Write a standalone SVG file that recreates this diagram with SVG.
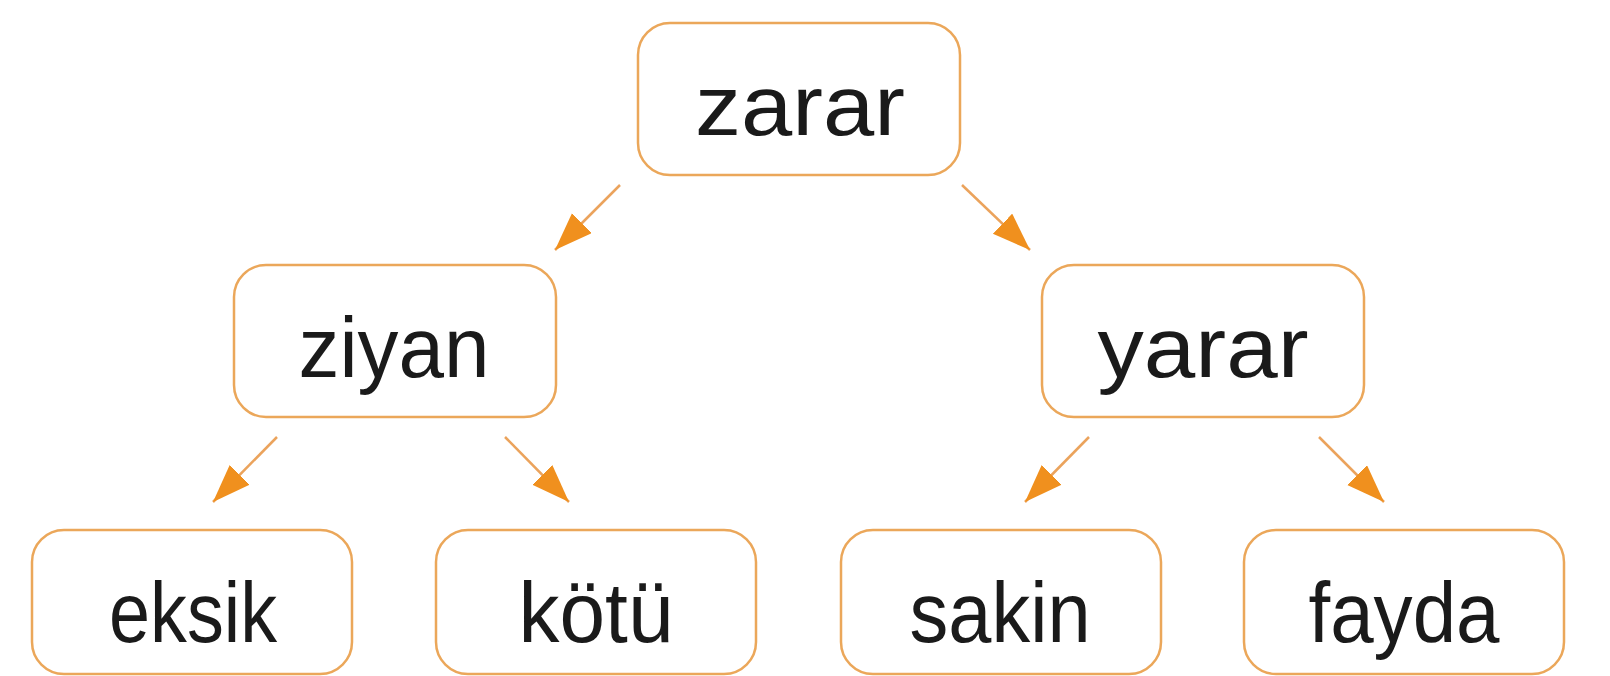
<svg xmlns="http://www.w3.org/2000/svg" width="1610" height="676" viewBox="0 0 1610 676">
<defs>
<style>
.box{fill:#ffffff;stroke:#EBA75A;stroke-width:2.5}
.lbl{font-family:"Liberation Sans","Noto Sans",sans-serif;font-size:86px;fill:#1a1a1a;text-anchor:middle}
.edge{stroke:#EBA35C;stroke-width:2.5;fill:none}
</style>
<marker id="ah" markerUnits="userSpaceOnUse" markerWidth="40" markerHeight="30" refX="38" refY="14" orient="auto">
<path d="M0,0 L38,14 L0,28 Z" fill="#F0901E"/>
</marker>
</defs>
<rect width="1610" height="676" fill="#ffffff"/>
<g id="connectors">
<line class="edge" x1="620" y1="185" x2="555" y2="250" marker-end="url(#ah)"/>
<line class="edge" x1="962" y1="185" x2="1030" y2="250" marker-end="url(#ah)"/>
<line class="edge" x1="277" y1="437" x2="213" y2="502" marker-end="url(#ah)"/>
<line class="edge" x1="505" y1="437" x2="569" y2="502" marker-end="url(#ah)"/>
<line class="edge" x1="1089" y1="437" x2="1025" y2="502" marker-end="url(#ah)"/>
<line class="edge" x1="1319" y1="437" x2="1384" y2="502" marker-end="url(#ah)"/>
</g>
<g id="zarar"><rect class="box" x="638" y="23" width="322" height="152" rx="32"/><text class="lbl" x="800" y="135" textLength="210" lengthAdjust="spacingAndGlyphs">zarar</text></g>
<g id="ziyan"><rect class="box" x="234" y="265" width="322" height="152" rx="32"/><text class="lbl" x="394" y="377" textLength="191" lengthAdjust="spacingAndGlyphs">ziyan</text></g>
<g id="yarar"><rect class="box" x="1042" y="265" width="322" height="152" rx="32"/><text class="lbl" x="1203" y="377" textLength="211" lengthAdjust="spacingAndGlyphs">yarar</text></g>
<g id="eksik"><rect class="box" x="32" y="530" width="320" height="144" rx="32"/><text class="lbl" x="193" y="642" textLength="168" lengthAdjust="spacingAndGlyphs">eksik</text></g>
<g id="kotu"><rect class="box" x="436" y="530" width="320" height="144" rx="32"/><text class="lbl" x="596" y="642" textLength="155" lengthAdjust="spacingAndGlyphs">kötü</text></g>
<g id="sakin"><rect class="box" x="841" y="530" width="320" height="144" rx="32"/><text class="lbl" x="1000" y="642" textLength="181" lengthAdjust="spacingAndGlyphs">sakin</text></g>
<g id="fayda"><rect class="box" x="1244" y="530" width="320" height="144" rx="32"/><text class="lbl" x="1404" y="642" textLength="191" lengthAdjust="spacingAndGlyphs">fayda</text></g>
</svg>
